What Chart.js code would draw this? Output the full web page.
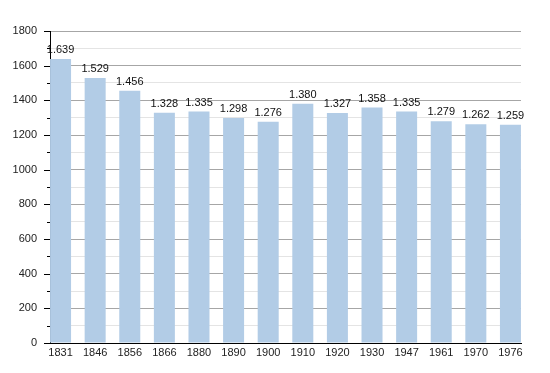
<!DOCTYPE html>
<html>
<head>
<meta charset="utf-8">
<script src="https://cdn.jsdelivr.net/npm/chart.js@4/dist/chart.umd.min.js"></script>
<style>
  html, body { margin: 0; padding: 0; background: #fff; }
  #wrap { width: 550px; height: 373px; position: relative; }
</style>
</head>
<body>
<div id="wrap"><canvas id="chart"></canvas></div>
<script>
// Population by census year
const years = ['1831', '1846', '1856', '1866', '1880', '1890', '1900', '1910', '1920', '1930', '1947', '1961', '1970', '1976'];
const population = [1639, 1529, 1456, 1328, 1335, 1298, 1276, 1380, 1327, 1358, 1335, 1279, 1262, 1259];
const yTicks = [0, 200, 400, 600, 800, 1000, 1200, 1400, 1600, 1800];

const FONT = { family: '"Liberation Sans", Arial, sans-serif', size: 11 };

// value labels above bars, "1.639" style
const barLabels = {
    id: 'barLabels',
    afterDatasetsDraw(chart) {
        const ctx = chart.ctx;
        const meta = chart.getDatasetMeta(0);
        ctx.save();
        ctx.font = '11px "Liberation Sans", Arial, sans-serif';
        ctx.fillStyle = '#111';
        ctx.textAlign = 'center';
        ctx.textBaseline = 'alphabetic';
        meta.data.forEach((bar, i) => {
            ctx.fillText(population[i].toLocaleString('de-DE'), bar.x, bar.y - 6);
        });
        ctx.restore();
    }
};

// short minor / long major tick marks on the y axis
const yTickMarks = {
    id: 'yTickMarks',
    afterDraw(chart) {
        const ctx = chart.ctx;
        const y = chart.scales.y;
        const left = chart.chartArea.left;
        ctx.save();
        ctx.strokeStyle = '#000';
        ctx.lineWidth = 1;
        y.ticks.forEach(t => {
            const py = Math.round(y.getPixelForValue(t.value)) + 0.5;
            const len = t.value % 200 === 0 ? 6 : 3;
            ctx.beginPath();
            ctx.moveTo(left - len, py);
            ctx.lineTo(left, py);
            ctx.stroke();
        });
        ctx.restore();
    }
};

new Chart(document.getElementById('chart'), {
    type: 'bar',
    data: {
        datasets: [{
            data: population.map((v, i) => ({ x: i, y: v })),
            backgroundColor: 'rgb(178, 204, 230)',
            borderWidth: 0,
            barPercentage: 0.607,
            categoryPercentage: 1
        }]
    },
    options: {
        responsive: true,
        maintainAspectRatio: false,
        animation: false,
        layout: { padding: { left: 0, right: 29, top: 31, bottom: 0 } },
        plugins: {
            legend: { display: false },
            tooltip: { enabled: false }
        },
        scales: {
            x: {
                type: 'linear',
                min: -0.305,
                max: 13.305,
                offset: false,
                afterBuildTicks: s => { s.ticks = years.map((_, i) => ({ value: i })); },
                afterFit: s => { s.height = 30; },
                grid: { display: false, drawTicks: false, offset: false },
                border: { display: true, color: '#000', width: 1 },
                ticks: {
                    autoSkip: false,
                    maxRotation: 0,
                    padding: 3,
                    color: '#222',
                    font: FONT,
                    callback: v => years[v] || ''
                }
            },
            y: {
                min: 0,
                max: 1800,
                afterFit: s => { s.width = 50; },
                ticks: {
                    stepSize: 100,
                    autoSkip: false,
                    padding: 13,
                    color: '#222',
                    font: FONT,
                    callback: v => yTicks.includes(v) ? String(v) : ''
                },
                grid: {
                    drawTicks: false,
                    color: c => c.tick && c.tick.value % 200 === 0 ? '#a6a6a6' : '#e4e4e4'
                },
                border: { display: true, color: '#000', width: 1 }
            }
        }
    },
    plugins: [barLabels, yTickMarks]
});
</script>
</body>
</html>
